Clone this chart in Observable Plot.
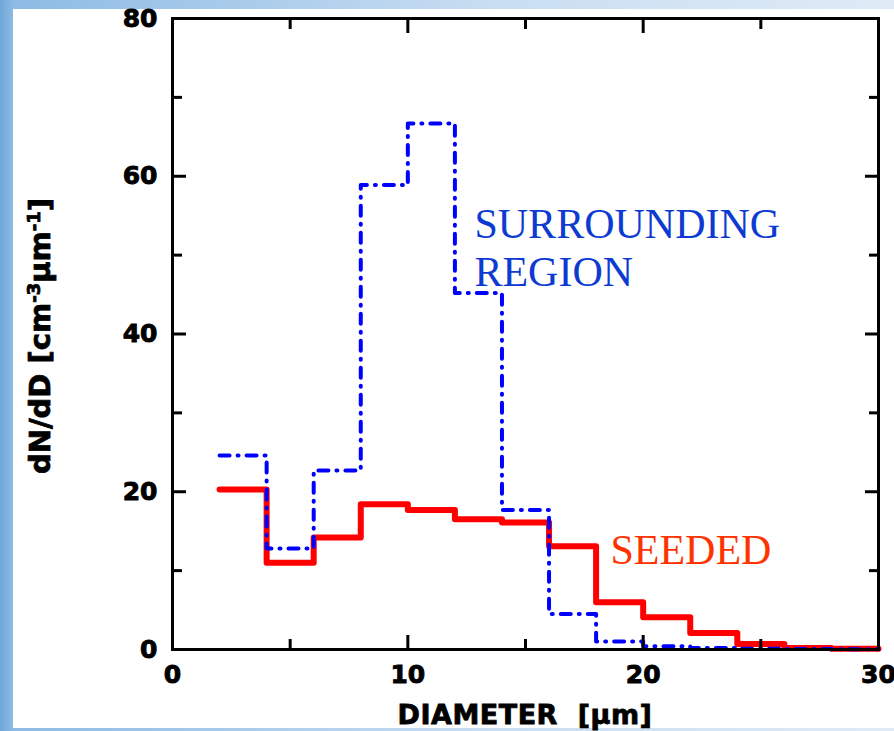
<!DOCTYPE html>
<html>
<head>
<meta charset="utf-8">
<script src="https://cdn.jsdelivr.net/npm/d3@7"></script>
<script src="https://cdn.jsdelivr.net/npm/@observablehq/plot@0.6"></script>
<style>
  html, body { margin: 0; padding: 0; }
  body {
    width: 894px; height: 731px; overflow: hidden; position: relative;
    background: linear-gradient(90deg, #6ea6d8 0px, #8dbbe4 13px, #c9def2 500px, #dfeaf6 894px);
  }
  #panel { position: absolute; left: 13px; top: 9px; width: 881px; height: 719px; background: #fff; }
  #chart { position: absolute; left: 0; top: 0; }
  #chart svg { background: transparent; }
  #chart g[aria-label$="tick label"] text { stroke: #000; stroke-width: 0.9px; }
  .heavy { stroke: #000; stroke-width: 0.8px; }
</style>
</head>
<body>
<div id="panel"></div>
<div id="chart"></div>
<script>
// Bin edges (diameter, µm) and dN/dD values per bin
const binEdges = [2, 4, 6, 8, 10, 12, 14, 16, 18, 20, 22, 24, 26, 28, 30];
const seeded = [20.3, 11.0, 14.2, 18.4, 17.7, 16.5, 16.1, 13.1, 6.0, 4.1, 2.1, 0.7, 0.2, 0.1];
const surrounding = [24.6, 12.8, 22.7, 58.9, 66.7, 45.2, 17.7, 4.5, 1.0, 0.4, 0.2, 0.1, 0.05, 0.02];

const xMajor = [0, 10, 20, 30];
const xMinor = [5, 15, 25];
const yMajor = [0, 20, 40, 60, 80];
const yMinor = [10, 30, 50, 70];

const stepRows = (vals) => binEdges.map((e, i) => ({x: e, y: vals[Math.min(i, vals.length - 1)]}));
const seededRows = stepRows(seeded);
const surroundRows = stepRows(surrounding);

const tickFont = {fontFamily: "DejaVu Sans", fontWeight: "bold", fontSize: 25, fill: "#000"};
const blank = () => "";

const chart = Plot.plot({
  width: 894,
  height: 731,
  marginLeft: 172,
  marginRight: 16,
  marginTop: 18,
  marginBottom: 82,
  style: {background: "transparent", overflow: "visible"},
  x: {domain: [0, 30]},
  y: {domain: [0, 80]},
  marks: [
    // step lines
    Plot.line(seededRows, {x: "x", y: "y", curve: "step-after", stroke: "#ff0000", strokeWidth: 6, strokeLinecap: "round", strokeLinejoin: "round"}),
    Plot.line(surroundRows, {x: "x", y: "y", curve: "step-after", stroke: "#0000ff", strokeWidth: 4, strokeDasharray: "10,8,1,8", strokeLinecap: "round", strokeLinejoin: "round"}),
    // inward ticks
    Plot.axisY({anchor: "left", ticks: yMajor, tickSize: -14, strokeWidth: 3, tickFormat: blank, label: null}),
    Plot.axisY({anchor: "left", ticks: yMinor, tickSize: -10, strokeWidth: 3, tickFormat: blank, label: null}),
    Plot.axisY({anchor: "right", ticks: yMajor, tickSize: -14, strokeWidth: 3, tickFormat: blank, label: null}),
    Plot.axisY({anchor: "right", ticks: yMinor, tickSize: -10, strokeWidth: 3, tickFormat: blank, label: null}),
    Plot.axisX({anchor: "bottom", ticks: xMajor, tickSize: -14, strokeWidth: 3, tickFormat: blank, label: null}),
    Plot.axisX({anchor: "bottom", ticks: xMinor, tickSize: -10, strokeWidth: 3, tickFormat: blank, label: null}),
    Plot.axisX({anchor: "top", ticks: xMajor, tickSize: -14, strokeWidth: 3, tickFormat: blank, label: null}),
    Plot.axisX({anchor: "top", ticks: xMinor, tickSize: -10, strokeWidth: 3, tickFormat: blank, label: null}),
    // tick labels
    Plot.axisY({anchor: "left", ticks: yMajor, tickSize: 0, tickPadding: 15, label: null, ...tickFont}),
    Plot.axisX({anchor: "bottom", ticks: xMajor, tickSize: 0, tickPadding: 16, label: null, ...tickFont}),
    Plot.frame({stroke: "#000", strokeWidth: 3}),
    // series labels
    Plot.text(["SURROUNDING"], {x: 12.83, y: 52.2, text: d => d, textAnchor: "start", lineAnchor: "bottom", fill: "#0d3bd1", fontFamily: "Liberation Serif", fontSize: 42}),
    Plot.text(["REGION"], {x: 12.83, y: 46.1, text: d => d, textAnchor: "start", lineAnchor: "bottom", fill: "#0d3bd1", fontFamily: "Liberation Serif", fontSize: 42}),
    Plot.text(["SEEDED"], {x: 18.61, y: 10.9, text: d => d, textAnchor: "start", lineAnchor: "bottom", fill: "#ff3300", fontFamily: "Liberation Serif", fontSize: 42})
  ]
});

// axis titles
const svg = d3.select(chart);
svg.append("text")
  .attr("class", "heavy")
  .attr("x", 525).attr("y", 724)
  .attr("text-anchor", "middle")
  .attr("font-family", "DejaVu Sans").attr("font-weight", "bold").attr("font-size", 27)
  .attr("letter-spacing", 0.5)
  .text("DIAMETER  [\u00b5m]").attr("xml:space", "preserve").style("white-space", "pre");
const yt = svg.append("text")
  .attr("class", "heavy")
  .attr("transform", "translate(50,336) rotate(-90)")
  .attr("text-anchor", "middle")
  .attr("font-family", "DejaVu Sans").attr("font-weight", "bold").attr("font-size", 29);
yt.append("tspan").text("dN/dD [cm");
yt.append("tspan").attr("baseline-shift", "super").attr("font-size", 18).text("-3");
yt.append("tspan").text("\u00b5m");
yt.append("tspan").attr("baseline-shift", "super").attr("font-size", 18).text("-1");
yt.append("tspan").text("]");

document.getElementById("chart").appendChild(chart);
</script>
</body>
</html>
